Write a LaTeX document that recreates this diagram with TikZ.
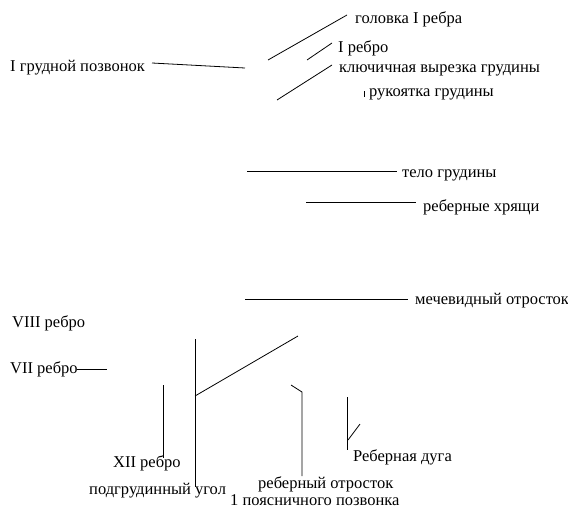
\documentclass[tikz,border=0pt]{standalone}
\usepackage{fontspec}
\setmainfont{Liberation Serif}
\begin{document}
\begin{tikzpicture}[x=1pt,y=-1pt,
  lbl/.style={anchor=west,inner sep=0pt,font=\fontsize{16.5}{19}\selectfont},
  ln/.style={line width=0.8pt}]
\useasboundingbox[fill=white] (0,0) rectangle (568,509);
% labels
\node[lbl] (golovka) at (355,19) {головка I ребра};
\node[lbl] (rebro1) at (338,48) {I ребро};
\node[lbl] (kluch) at (339,70) {ключичная вырезка грудины};
\node[lbl] (rukoyat) at (369,94) {рукоятка грудины};
\node[lbl] (pozv) at (10,68) {I грудной позвонок};
\node[lbl] (telo) at (402,175) {тело грудины};
\node[lbl] (hryashi) at (423,207) {реберные хрящи};
\node[lbl] (mech) at (415,301) {мечевидный отросток};
\node[lbl] (r8) at (12,323) {VIII ребро};
\node[lbl] (r7) at (10,369) {VII ребро};
\node[lbl] (r12) at (113,463) {XII ребро};
\node[lbl] (ugol) at (89,491) {подгрудинный угол};
\node[lbl] (otr) at (258,484) {реберный отросток};
\node[lbl] (otr2) at (230,500) {1 поясничного позвонка};
\node[lbl] (duga) at (353,457) {Реберная дуга};
% coordinates
\coordinate (a1) at (268,60); \coordinate (a2) at (347,15);
\coordinate (b1) at (307,60); \coordinate (b2) at (332,43);
\coordinate (c1) at (277,100); \coordinate (c2) at (332,65);
\coordinate (d1) at (364,91); \coordinate (d2) at (364,97);
\coordinate (e1) at (152,63); \coordinate (e2) at (245,68);
\coordinate (f1) at (247,171); \coordinate (f2) at (397,171);
\coordinate (g1) at (306,202); \coordinate (g2) at (416,202);
\coordinate (h1) at (245,299); \coordinate (h2) at (408,299);
\coordinate (i1) at (77,369); \coordinate (i2) at (107,369);
\coordinate (j1) at (163,385); \coordinate (j2) at (163,458);
\coordinate (k1) at (195,339); \coordinate (k2) at (195,487); \coordinate (k3) at (195,396);
\coordinate (l1) at (298,336);
\coordinate (m1) at (291,385); \coordinate (m2) at (302,392); \coordinate (m3) at (302,476);
\coordinate (n1) at (347,397); \coordinate (n2) at (347,450);
\coordinate (o1) at (348,440); \coordinate (o2) at (360,424);
% lines
\draw[ln] (a1) -- (a2);
\draw[ln] (b1) -- (b2);
\draw[ln] (c1) -- (c2);
\draw[ln] (d1) -- (d2);
\draw[ln] (e1) -- (e2);
\draw[ln] (f1) -- (f2);
\draw[ln] (g1) -- (g2);
\draw[ln] (h1) -- (h2);
\draw[ln] (i1) -- (i2);
\draw[ln] (j1) -- (j2);
\draw[ln] (k1) -- (k2);
\draw[ln] (k3) -- (l1);
\draw[ln] (m1) -- (m2) -- (m3);
\draw[ln] (n1) -- (n2);
\draw[ln] (o1) -- (o2);
\end{tikzpicture}
\end{document}
